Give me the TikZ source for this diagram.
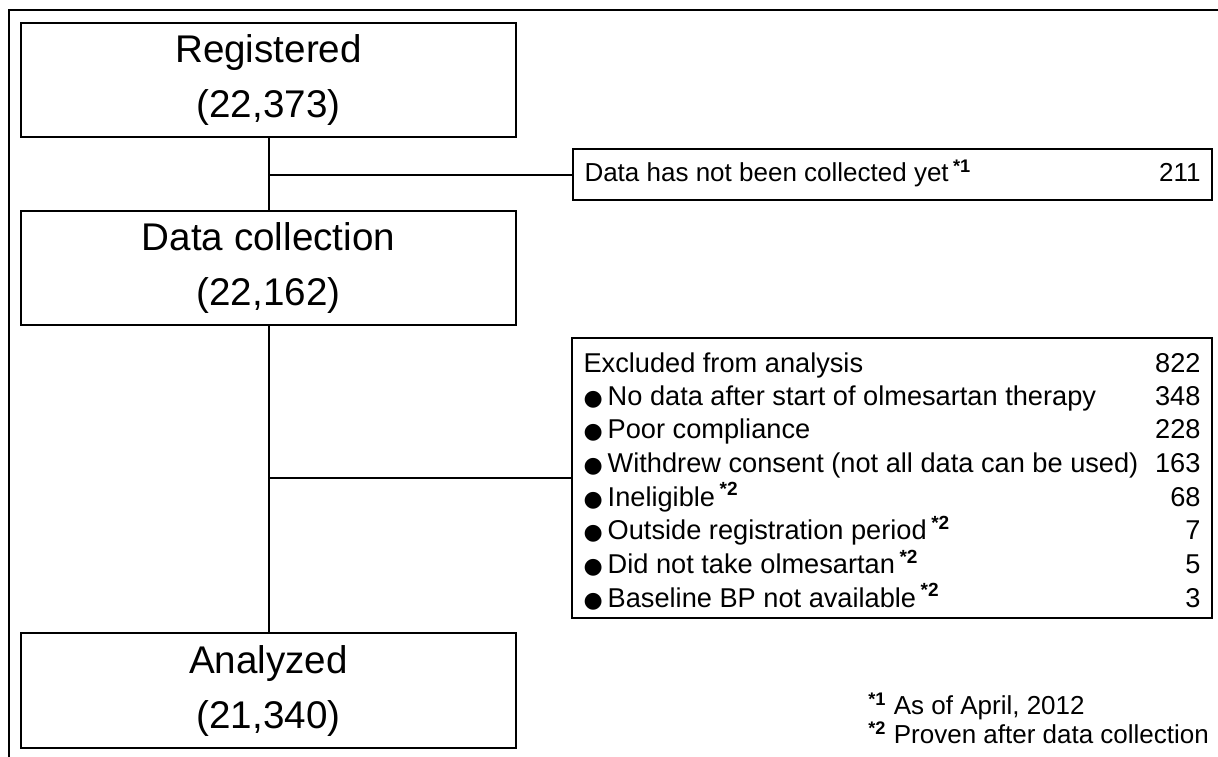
\documentclass[tikz,border=0pt]{standalone}
\usepackage{fontspec}
\setmainfont{Liberation Sans}
\newfontfamily\dejavu{DejaVu Sans}
\newcommand\sups[1]{\textsuperscript{\textbf{*#1}}}
\newcommand\bul{{\dejavu\fontsize{11}{11}\selectfont ●}\hspace{2.5pt}}
\begin{document}
\begin{tikzpicture}[x=0.5pt,y=-0.5pt,
  bigbox/.style={draw, line width=1.4pt, minimum width=247.5pt, minimum height=57pt,
    align=center, inner sep=0pt, font=\fontsize{19.3}{27.5}\selectfont},
  sidebox/.style={draw, line width=1.3pt, inner xsep=5.75pt, inner ysep=0pt},
  conn/.style={line width=1pt},
  frameline/.style={line width=1.2pt}]
\useasboundingbox (0,0) rectangle (1218,756);
\draw[frameline] (9,760) -- (9,10) -- (1222,10);

\node[bigbox] (reg) at (268.5,80) {Registered\\(22,373)};
\node[bigbox] (dc) at (268.5,268) {Data collection\\(22,162)};
\node[bigbox, minimum height=57.5pt] (an) at (268.5,690.5) {Analyzed\\(21,340)};

\node[sidebox, minimum height=25.5pt, font=\fontsize{13}{16.5}\selectfont] (nc) at (892.5,174.5)
  {\begin{tabular*}{308pt}{@{}l@{\extracolsep{\fill}}r@{}}
   Data has not been collected yet\,\sups{1} & 211
   \end{tabular*}};

\node[sidebox, minimum height=140pt, font=\fontsize{13.6}{16.7}\selectfont] (ex) at (892,478)
  {\raisebox{0pt}[\dimexpr\height+5pt\relax][\depth]{\begin{tabular*}{308.5pt}{@{}l@{\extracolsep{\fill}}r@{}}
   Excluded from analysis & 822\\
   \bul No data after start of olmesartan therapy & 348\\
   \bul Poor compliance & 228\\
   \bul Withdrew consent (not all data can be used) & 163\\
   \bul Ineligible\,\sups{2} & 68\\
   \bul Outside registration period\,\sups{2} & 7\\
   \bul Did not take olmesartan\,\sups{2} & 5\\
   \bul Baseline BP not available\,\sups{2} & 3
   \end{tabular*}}};

\node[anchor=west, align=left, inner sep=0pt, font=\fontsize{13}{14.5}\selectfont] (fn) at (868,718)
  {\sups{1} As of April, 2012\\ \sups{2} Proven after data collection};

\coordinate (b1) at (reg.south |- nc.west);
\coordinate (b2) at (dc.south |- ex.west);
\draw[conn] (reg.south) -- (dc.north);
\draw[conn] (b1) -- (nc.west);
\draw[conn] (dc.south) -- (an.north);
\draw[conn] (b2) -- (ex.west);
\end{tikzpicture}
\end{document}
